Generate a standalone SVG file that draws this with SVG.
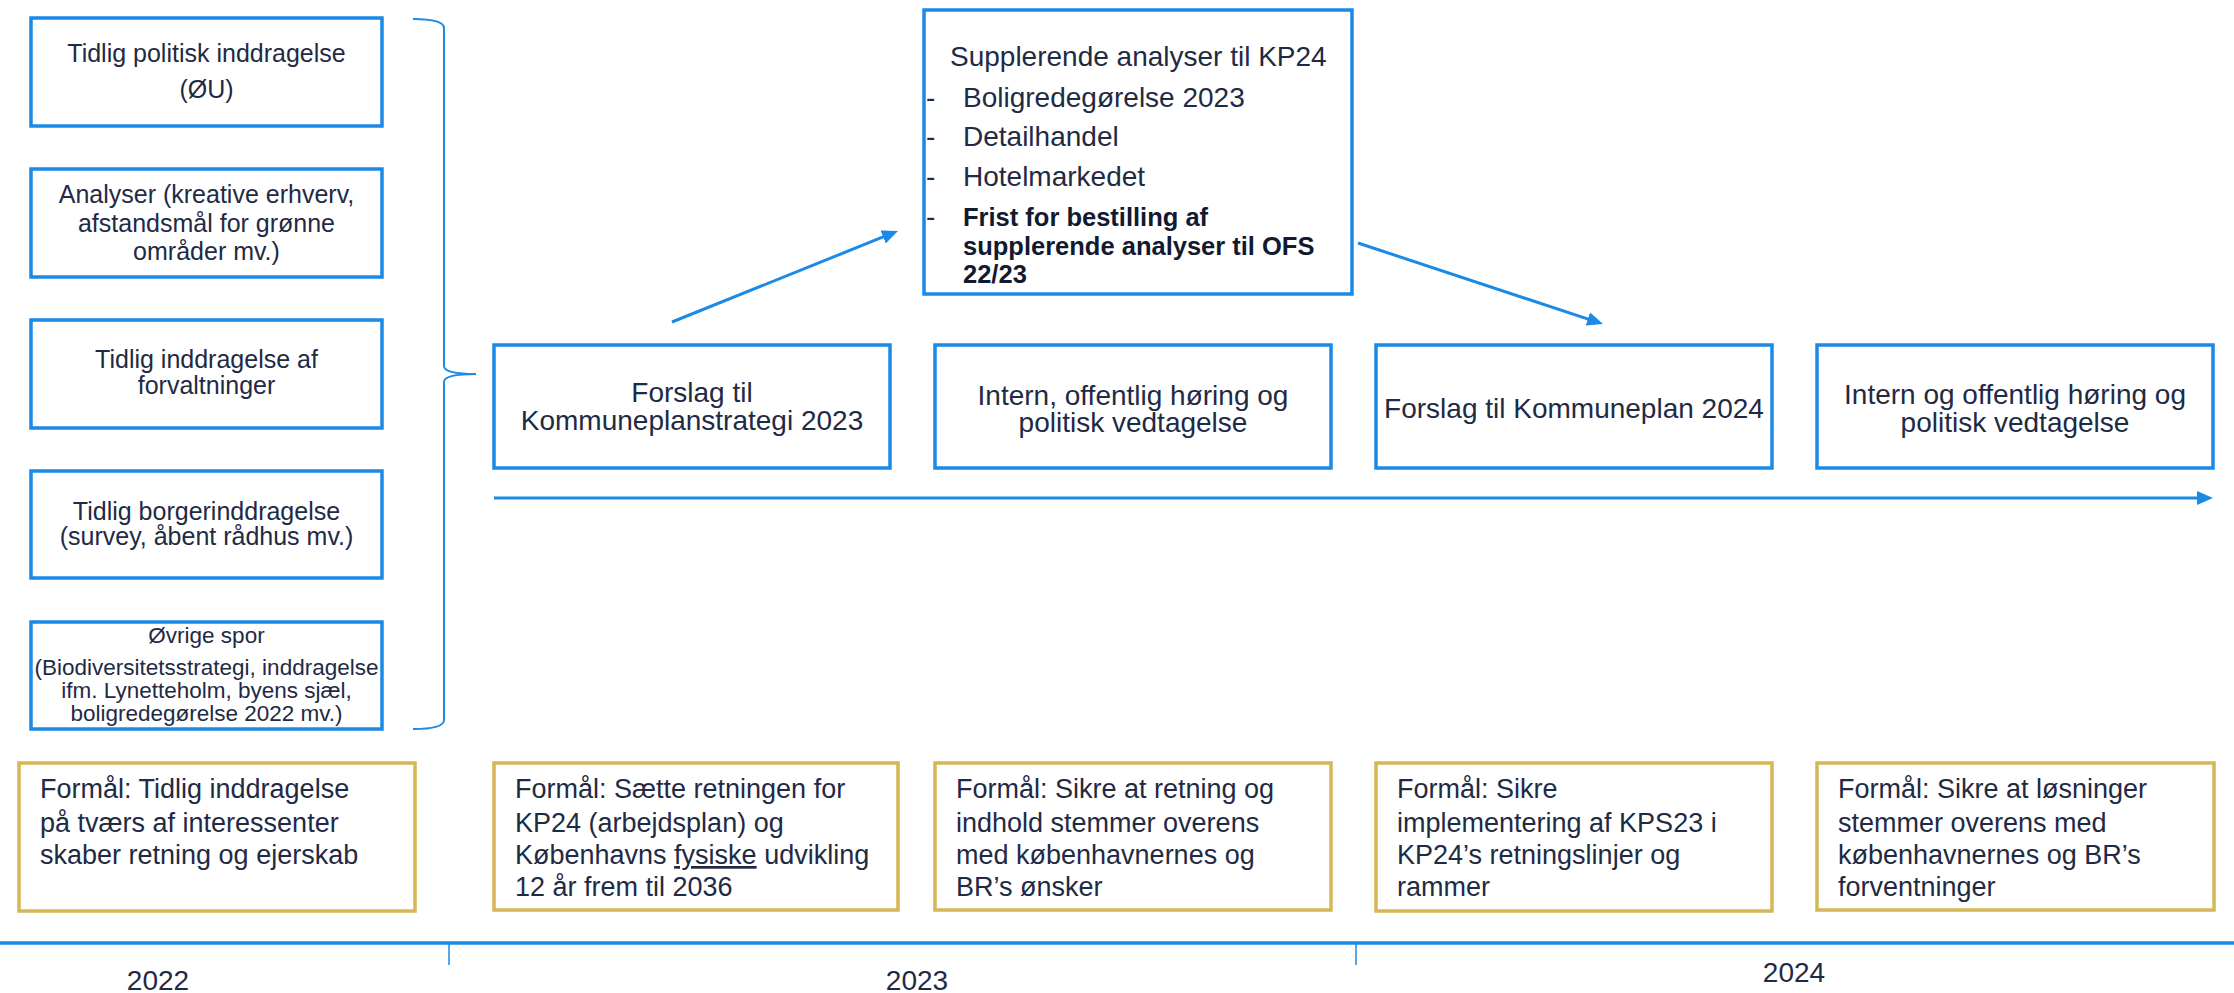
<svg xmlns="http://www.w3.org/2000/svg" width="2234" height="993" viewBox="0 0 2234 993">
<style>
  .bx { fill: #ffffff; stroke: #1a8ae6; stroke-width: 3.5; }
  .gd { fill: #ffffff; stroke: #d5b753; stroke-width: 3.5; }
  .t { font-family: "Liberation Sans", Arial, sans-serif; fill: #1f2a44; }
  .c { text-anchor: middle; }
  .s22 { font-size: 22.5px; }
  .s25 { font-size: 25px; }
  .s27 { font-size: 27px; }
  .s28 { font-size: 28px; }
  .b { font-weight: bold; font-size: 25.5px; fill: #111a30; }
  .ln { stroke: #1a8ae6; stroke-width: 3; fill: none; }
  .yr { font-size: 28px; text-anchor: middle; }
</style>
<defs>
  <marker id="ah" viewBox="0 0 16 14" markerWidth="16" markerHeight="14" refX="6" refY="7" orient="auto" markerUnits="userSpaceOnUse">
    <path d="M0,0 L16,7 L0,14 z" fill="#1a8ae6"/>
  </marker>
</defs>
<rect width="2234" height="993" fill="#ffffff"/>

<!-- Left column -->
<g id="left1">
  <rect class="bx" x="31" y="18" width="351" height="108"/>
  <text class="t c s25" x="206.5" y="62">Tidlig politisk inddragelse</text>
  <text class="t c s25" x="206.5" y="98">(ØU)</text>
</g>
<g id="left2">
  <rect class="bx" x="31" y="169" width="351" height="108"/>
  <text class="t c s25" x="206.5" y="203">Analyser (kreative erhverv,</text>
  <text class="t c s25" x="206.5" y="232">afstandsmål for grønne</text>
  <text class="t c s25" x="206.5" y="260">områder mv.)</text>
</g>
<g id="left3">
  <rect class="bx" x="31" y="320" width="351" height="108"/>
  <text class="t c s25" x="206.5" y="368">Tidlig inddragelse af</text>
  <text class="t c s25" x="206.5" y="394">forvaltninger</text>
</g>
<g id="left4">
  <rect class="bx" x="31" y="471" width="351" height="107"/>
  <text class="t c s25" x="206.5" y="520">Tidlig borgerinddragelse</text>
  <text class="t c s25" x="206.5" y="545">(survey, åbent rådhus mv.)</text>
</g>
<g id="left5">
  <rect class="bx" x="31" y="622" width="351" height="107"/>
  <text class="t c s22" x="206.5" y="643">Øvrige spor</text>
  <text class="t c s22" x="206.5" y="675">(Biodiversitetsstrategi, inddragelse</text>
  <text class="t c s22" x="206.5" y="698">ifm. Lynetteholm, byens sjæl,</text>
  <text class="t c s22" x="206.5" y="721">boligredegørelse 2022 mv.)</text>
</g>

<!-- Main row -->
<g id="kps23">
  <rect class="bx" x="494" y="345" width="396" height="123"/>
  <text class="t c s28" x="692" y="402">Forslag til</text>
  <text class="t c s28" x="692" y="430">Kommuneplanstrategi 2023</text>
</g>
<g id="hoering1">
  <rect class="bx" x="935" y="345" width="396" height="123"/>
  <text class="t c s28" x="1133" y="405">Intern, offentlig høring og</text>
  <text class="t c s28" x="1133" y="432">politisk vedtagelse</text>
</g>
<g id="kp24">
  <rect class="bx" x="1376" y="345" width="396" height="123"/>
  <text class="t c s28" x="1574" y="418">Forslag til Kommuneplan 2024</text>
</g>
<g id="hoering2">
  <rect class="bx" x="1817" y="345" width="396" height="123"/>
  <text class="t c s28" x="2015" y="404">Intern og offentlig høring og</text>
  <text class="t c s28" x="2015" y="432">politisk vedtagelse</text>
</g>

<!-- Top box -->
<g id="supplerende">
  <rect class="bx" x="924" y="10" width="428" height="284"/>
  <text class="t s28" x="950" y="66">Supplerende analyser til KP24</text>
  <text class="t s28" x="926" y="107">-</text>
  <text class="t s28" x="963" y="107">Boligredegørelse 2023</text>
  <text class="t s28" x="926" y="146">-</text>
  <text class="t s28" x="963" y="146">Detailhandel</text>
  <text class="t s28" x="926" y="186">-</text>
  <text class="t s28" x="963" y="186">Hotelmarkedet</text>
  <text class="t s28" x="926" y="226">-</text>
  <text class="t b" x="963" y="226">Frist for bestilling af</text>
  <text class="t b" x="963" y="255">supplerende analyser til OFS</text>
  <text class="t b" x="963" y="283">22/23</text>
</g>

<!-- Bottom purpose boxes -->
<g id="formaal1">
  <rect class="gd" x="19" y="763" width="396" height="148"/>
  <text class="t s27" x="40" y="798">Formål: Tidlig inddragelse</text>
  <text class="t s27" x="40" y="832">på tværs af interessenter</text>
  <text class="t s27" x="40" y="864">skaber retning og ejerskab</text>
</g>
<g id="formaal2">
  <rect class="gd" x="494" y="763" width="404" height="147"/>
  <text class="t s27" x="515" y="798">Formål: Sætte retningen for</text>
  <text class="t s27" x="515" y="832">KP24 (arbejdsplan) og</text>
  <text class="t s27" x="515" y="864">Københavns <tspan text-decoration="underline">fysiske</tspan> udvikling</text>
  <text class="t s27" x="515" y="896">12 år frem til 2036</text>
</g>
<g id="formaal3">
  <rect class="gd" x="935" y="763" width="396" height="147"/>
  <text class="t s27" x="956" y="798">Formål: Sikre at retning og</text>
  <text class="t s27" x="956" y="832">indhold stemmer overens</text>
  <text class="t s27" x="956" y="864">med københavnernes og</text>
  <text class="t s27" x="956" y="896">BR’s ønsker</text>
</g>
<g id="formaal4">
  <rect class="gd" x="1376" y="763" width="396" height="148"/>
  <text class="t s27" x="1397" y="798">Formål: Sikre</text>
  <text class="t s27" x="1397" y="832">implementering af KPS23 i</text>
  <text class="t s27" x="1397" y="864">KP24’s retningslinjer og</text>
  <text class="t s27" x="1397" y="896">rammer</text>
</g>
<g id="formaal5">
  <rect class="gd" x="1817" y="763" width="397" height="147"/>
  <text class="t s27" x="1838" y="798">Formål: Sikre at løsninger</text>
  <text class="t s27" x="1838" y="832">stemmer overens med</text>
  <text class="t s27" x="1838" y="864">københavnernes og BR’s</text>
  <text class="t s27" x="1838" y="896">forventninger</text>
</g>

<!-- Connectors -->
<g id="connectors">
  <path class="ln" style="stroke-width:2" d="M413,19 Q444,19 444,28 L444,366 Q444,374 476,374 Q444,374 444,382 L444,720 Q444,729 413,729"/>
  <line class="ln" x1="672" y1="322" x2="888.7" y2="234.7" marker-end="url(#ah)"/>
  <line class="ln" x1="1358" y1="243" x2="1593.5" y2="320.9" marker-end="url(#ah)"/>
  <line class="ln" x1="494" y1="498" x2="2203" y2="498" marker-end="url(#ah)"/>
</g>

<!-- Timeline -->
<g id="timeline">
  <line x1="0" y1="943" x2="2234" y2="943" stroke="#1a8ae6" stroke-width="3.5"/>
  <line x1="449" y1="943" x2="449" y2="965" stroke="#1a8ae6" stroke-width="1.5"/>
  <line x1="1356" y1="943" x2="1356" y2="965" stroke="#1a8ae6" stroke-width="1.5"/>
  <text class="t yr" x="158" y="990">2022</text>
  <text class="t yr" x="917" y="990">2023</text>
  <text class="t yr" x="1794" y="982">2024</text>
</g>
</svg>
